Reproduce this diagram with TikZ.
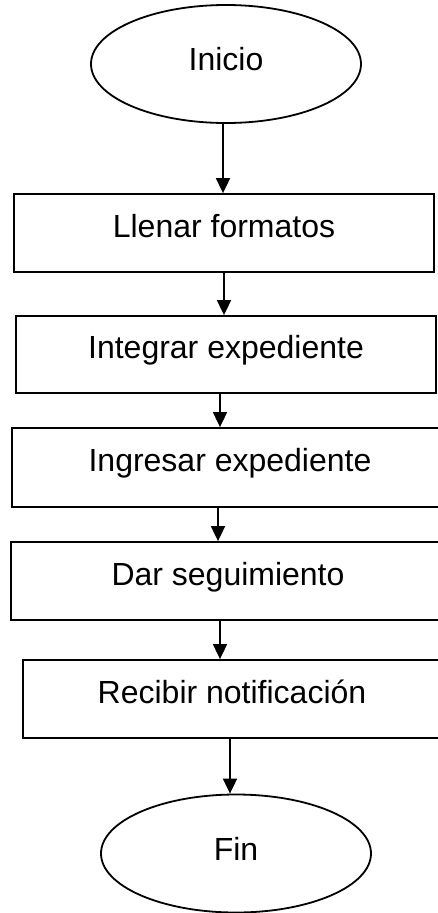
\documentclass[tikz,border=0pt]{standalone}
\usepackage{fontspec}
\setmainfont{Liberation Sans}
\usetikzlibrary{shapes.geometric,arrows.meta}
\begin{document}
\begin{tikzpicture}[x=1pt,y=-1pt,
  every node/.style={font=\fontsize{32}{38}\selectfont},
  term/.style={draw,ellipse,line width=1.8pt,inner sep=0pt,minimum width=270pt,minimum height=118pt,text height=23pt,text depth=10pt},
  stepbox/.style={draw,rectangle,line width=1.8pt,inner sep=0pt,text height=23pt,text depth=15pt},
  arr/.style={line width=1.8pt,-{Triangle[length=15pt,width=14pt]}}]
\useasboundingbox (0,0) rectangle (438,913);
\clip (0,0) rectangle (438,913);
\node[term] (inicio) at (226,64) {Inicio};
\node[stepbox,minimum width=420pt,minimum height=78pt] (b1) at (224,233) {Llenar formatos};
\node[stepbox,minimum width=420pt,minimum height=77pt] (b2) at (226,354.5) {Integrar expediente};
\node[stepbox,minimum width=436pt,minimum height=79pt] (b3) at (230,467.5) {Ingresar expediente};
\node[stepbox,minimum width=434pt,minimum height=78pt] (b4) at (228,581) {Dar seguimiento};
\node[stepbox,minimum width=418pt,minimum height=78pt] (b5) at (232,699) {Recibir notificación};
\node[term] (fin) at (236,853.5) {Fin};
\draw[arr] ([xshift=-3pt]inicio.south) -- ([xshift=-1pt]b1.north);
\draw[arr] (b1.south) -- ([xshift=-2pt]b2.north);
\draw[arr] ([xshift=-6pt]b2.south) -- ([xshift=-10pt]b3.north);
\draw[arr] ([xshift=-12pt]b3.south) -- ([xshift=-10pt]b4.north);
\draw[arr] ([xshift=-8pt]b4.south) -- ([xshift=-12pt]b5.north);
\draw[arr] ([xshift=-2pt]b5.south) -- ([xshift=-6pt]fin.north);
\end{tikzpicture}
\end{document}
